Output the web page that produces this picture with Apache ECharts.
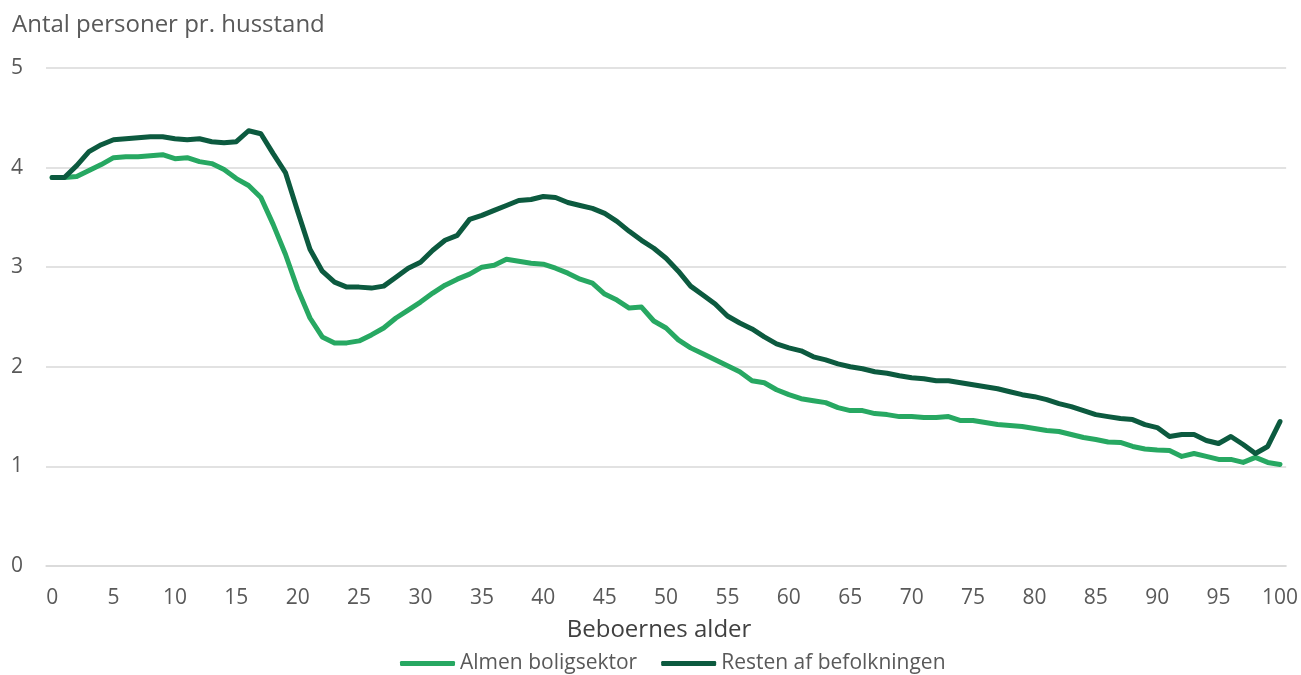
<!DOCTYPE html>
<html>
<head>
<meta charset="utf-8">
<script src="https://cdn.jsdelivr.net/npm/echarts@6/dist/echarts.min.js"></script>
<style>
html,body{margin:0;padding:0;background:#fff;}
#chart{width:1301px;height:675px;}
</style>
</head>
<body>
<div id="chart"></div>
<script>
const ages = [];
for (let a = 0; a <= 100; a++) ages.push(String(a));

const almen = [
3.90,3.90,3.91,3.97,4.03,4.10,4.11,4.11,4.12,4.13,
4.09,4.10,4.06,4.04,3.98,3.89,3.82,3.70,3.43,3.13,
2.78,2.49,2.30,2.24,2.24,2.26,2.32,2.39,2.49,2.57,
2.65,2.74,2.82,2.88,2.93,3.00,3.02,3.08,3.06,3.04,
3.03,2.99,2.94,2.88,2.84,2.73,2.67,2.59,2.60,2.46,
2.39,2.27,2.19,2.13,2.07,2.01,1.95,1.86,1.84,1.77,
1.72,1.68,1.66,1.64,1.59,1.56,1.56,1.53,1.52,1.50,
1.50,1.49,1.49,1.50,1.46,1.46,1.44,1.42,1.41,1.40,
1.38,1.36,1.35,1.32,1.29,1.27,1.245,1.24,1.20,1.175,
1.165,1.16,1.10,1.13,1.10,1.07,1.07,1.04,1.09,1.04,
1.02
];

const resten = [
3.90,3.90,4.02,4.16,4.23,4.28,4.29,4.30,4.31,4.31,
4.29,4.28,4.29,4.26,4.25,4.26,4.37,4.34,4.14,3.95,
3.56,3.18,2.96,2.85,2.80,2.80,2.79,2.81,2.90,2.99,
3.05,3.17,3.27,3.32,3.48,3.52,3.57,3.62,3.67,3.68,
3.71,3.70,3.65,3.62,3.59,3.54,3.46,3.36,3.27,3.19,
3.09,2.96,2.81,2.72,2.63,2.51,2.44,2.38,2.30,2.23,
2.19,2.16,2.10,2.07,2.03,2.00,1.98,1.95,1.935,1.91,
1.89,1.88,1.86,1.86,1.84,1.82,1.80,1.78,1.75,1.72,
1.70,1.67,1.63,1.60,1.56,1.52,1.50,1.48,1.47,1.42,
1.39,1.30,1.32,1.32,1.26,1.23,1.30,1.22,1.13,1.20,
1.45
];

const seriesNames = ['Almen boligsektor', 'Resten af befolkningen'];
const colors = ['#27A862', '#0C5A3F'];
const yTitle = 'Antal personer pr. husstand';
const xTitle = 'Beboernes alder';

const font = '"Open Sans", "Noto Sans", sans-serif';
const chart = echarts.init(document.getElementById('chart'), null, {renderer: 'canvas'});
chart.setOption({
  animation: false,
  backgroundColor: '#ffffff',
  title: {
    text: yTitle,
    left: 7, top: 8,
    textStyle: {fontFamily: font, fontSize: 24, fontWeight: 'normal', color: '#595959'}
  },
  grid: {left: 46, right: 13, top: 68, bottom: 109, containLabel: false},
  legend: {
    bottom: -4,
    left: 395,
    itemWidth: 55, itemHeight: 5,
    itemGap: 24,
    icon: 'roundRect',
    textStyle: {fontFamily: font, fontSize: 21, color: '#595959'},
    data: seriesNames
  },
  xAxis: {
    type: 'category',
    data: ages,
    boundaryGap: true,
    name: xTitle,
    nameLocation: 'middle',
    nameGap: 52,
    nameTextStyle: {fontFamily: font, fontSize: 24, color: '#404040', padding: [0, 14, 0, 0]},
    axisLine: {show: true, lineStyle: {color: '#d9d9d9', width: 1.5}},
    axisTick: {show: false},
    axisLabel: {interval: 4, margin: 22, fontFamily: font, fontSize: 21, color: '#595959'},
    splitLine: {show: false}
  },
  yAxis: {
    type: 'value',
    min: 0, max: 5, interval: 1,
    axisLine: {show: false},
    axisTick: {show: false},
    axisLabel: {margin: 23, fontFamily: font, fontSize: 21, color: '#595959'},
    splitLine: {lineStyle: {color: '#d9d9d9', width: 1.5}}
  },
  series: [
    {
      name: seriesNames[0], type: 'line', data: almen,
      showSymbol: false, symbol: 'none',
      lineStyle: {color: colors[0], width: 5, cap: 'round', join: 'round'},
      itemStyle: {color: colors[0]}
    },
    {
      name: seriesNames[1], type: 'line', data: resten,
      showSymbol: false, symbol: 'none',
      lineStyle: {color: colors[1], width: 5, cap: 'round', join: 'round'},
      itemStyle: {color: colors[1]}
    }
  ]
});
</script>
</body>
</html>
